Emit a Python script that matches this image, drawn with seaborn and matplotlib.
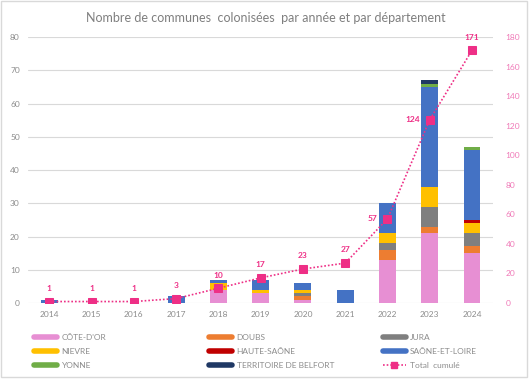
import numpy as np
import pandas as pd
import matplotlib
matplotlib.use('Agg')
import matplotlib.pyplot as plt
from matplotlib.lines import Line2D
from matplotlib.patches import Rectangle
import seaborn as sns

# ── Data ──────────────────────────────────────────────────────────────────────
years = ['2014', '2015', '2016', '2017', '2018', '2019', '2020', '2021', '2022', '2023', '2024']
cote_dor = [0, 0, 0, 0, 4, 3, 1, 0, 13, 21, 15]
doubs = [0, 0, 0, 0, 0, 0, 1, 0, 3, 2, 2]
jura = [0, 0, 0, 0, 0, 0, 1, 0, 2, 6, 4]
nievre = [0, 0, 0, 0, 2, 1, 1, 0, 3, 6, 3]
haute_saone = [0, 0, 0, 0, 0, 0, 0, 0, 0, 0, 1]
saone_loire = [1, 0, 0, 2, 1, 3, 2, 4, 9, 30, 21]
yonne = [0, 0, 0, 0, 0, 0, 0, 0, 0, 1, 1]
belfort = [0, 0, 0, 0, 0, 0, 0, 0, 0, 1, 0]
total_cumule = [1, 1, 1, 3, 10, 17, 23, 27, 57, 124, 171]

departements = ["CÔTE-D'OR", 'DOUBS', 'JURA', 'NIEVRE', 'HAUTE-SAÔNE',
                'SAÔNE-ET-LOIRE', 'YONNE', 'TERRITOIRE DE BELFORT']
series = [cote_dor, doubs, jura, nievre, haute_saone, saone_loire, yonne, belfort]
colors = ['#E78FD3', '#ED7D31', '#7F7F7F', '#FFC000', '#C00000',
          '#4472C4', '#70AD47', '#1F3864']
line_color = '#EE2F86'

df = pd.DataFrame(dict(zip(departements, series)), index=years)

# ── Style ─────────────────────────────────────────────────────────────────────
sns.set_theme(style='white')
plt.rcParams['font.family'] = ['Lato', 'DejaVu Sans']
grey_txt = '#8C8C8C'

fig = plt.figure(figsize=(5.32, 3.80), dpi=100)
ax = fig.add_axes([0.053, 0.2026, 0.874, 0.70])
fig.patches.append(Rectangle((0.002, 0.008), 0.988, 0.99, transform=fig.transFigure,
                             fill=False, edgecolor='#D9D9D9', linewidth=1))

# stacked bars
x = np.arange(len(years))
bottom = np.zeros(len(years))
for name, col in zip(departements, colors):
    vals = df[name].values
    ax.bar(x, vals, bottom=bottom, width=0.4, color=col, linewidth=0, zorder=2)
    bottom += vals

ax.set_xlim(-0.5, len(years) - 0.5)
ax.set_ylim(0, 80)
ax.set_yticks(range(0, 81, 10))
ax.set_xticks(x)
ax.set_xticklabels(years)
ax.yaxis.grid(True, color='#D9D9D9', linewidth=0.8, zorder=0)
ax.tick_params(axis='both', labelsize=6, colors=grey_txt, length=0, pad=6)
for s in ax.spines.values():
    s.set_visible(False)

# cumulative line
ax2 = ax.twinx()
line_df = pd.DataFrame({'x': x, 'total': total_cumule})
sns.lineplot(data=line_df, x='x', y='total', ax=ax2, color=line_color,
             linestyle=(0, (1, 1.2)), linewidth=1.2, marker='s', markersize=5.5,
             markeredgecolor=line_color, zorder=5)
ax2.set_ylim(0, 180)
ax2.set_yticks(range(0, 181, 20))
ax2.set_ylabel('')
ax2.set_xlabel('')
ax2.tick_params(axis='y', labelsize=6, colors='#F07AB8', length=0, pad=9)
for s in ax2.spines.values():
    s.set_visible(False)
ax2.grid(False)

left_labels = {8, 9}
for i, v in enumerate(total_cumule):
    if i in left_labels:
        ax2.annotate(str(v), (i, v), xytext=(-7, 0), textcoords='offset points',
                     ha='right', va='center', fontsize=6, fontweight='bold',
                     color=line_color)
    else:
        ax2.annotate(str(v), (i, v), xytext=(0, 7), textcoords='offset points',
                     ha='center', va='bottom', fontsize=6, fontweight='bold',
                     color=line_color)

fig.text(0.5, 0.953, 'Nombre de communes  colonisées  par année et par département',
         ha='center', va='center', fontsize=9, color='#7F7F7F')

# legend: three columns placed like the original
handles = [Line2D([], [], color=c, linewidth=4) for c in colors]
handles.append(Line2D([], [], color=line_color, linestyle=(0, (1, 1.2)), linewidth=1.2,
                      marker='s', markersize=4.5))
labels = departements + ['Total  cumulé']
columns = [[0, 3, 6], [1, 4, 7], [2, 5, 8]]
col_x = [0.064, 0.393, 0.719]
for cx, idx in zip(col_x, columns):
    fig.legend([handles[i] for i in idx], [labels[i] for i in idx],
               loc='upper left', bbox_to_anchor=(cx, 0.122), ncol=1, frameon=False,
               fontsize=6, labelcolor=grey_txt, handlelength=2.8, handletextpad=0.5,
               labelspacing=0.85, borderaxespad=0, borderpad=0)

fig.savefig('out.png', dpi=100)
